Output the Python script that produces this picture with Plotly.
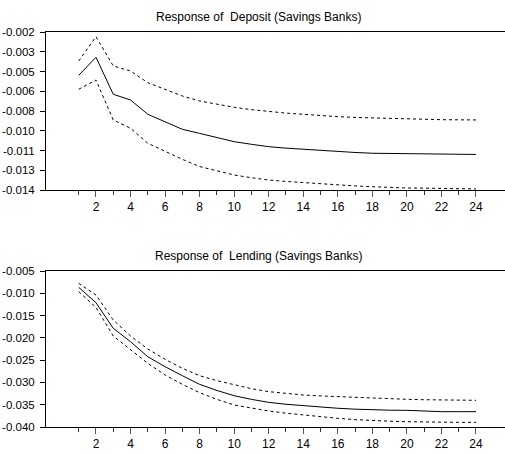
import plotly.graph_objects as go

periods = list(range(1, 25))

deposit_resp = [-0.00529, -0.00392, -0.00673, -0.00716, -0.00825, -0.00881, -0.00939, -0.00970,
                -0.01003, -0.01033, -0.01053, -0.01071, -0.01082, -0.01091, -0.01100, -0.01109,
                -0.01115, -0.01121, -0.01123, -0.01124, -0.01127, -0.01129, -0.01130, -0.01130]
deposit_upper = [-0.00420, -0.00236, -0.00458, -0.00496, -0.00585, -0.00635, -0.00686, -0.00724,
                 -0.00750, -0.00772, -0.00790, -0.00805, -0.00816, -0.00825, -0.00835, -0.00843,
                 -0.00849, -0.00853, -0.00858, -0.00861, -0.00864, -0.00866, -0.00867, -0.00868]
deposit_lower = [-0.00635, -0.00565, -0.00868, -0.00931, -0.01045, -0.01109, -0.01167, -0.01222,
                 -0.01256, -0.01286, -0.01307, -0.01324, -0.01335, -0.01344, -0.01354, -0.01362,
                 -0.01369, -0.01375, -0.01381, -0.01385, -0.01386, -0.01387, -0.01390, -0.01392]

lending_resp = [-0.00866, -0.01211, -0.01786, -0.02086, -0.02423, -0.02647, -0.02849, -0.03043,
                -0.03180, -0.03298, -0.03380, -0.03447, -0.03490, -0.03522, -0.03555, -0.03580,
                -0.03600, -0.03619, -0.03623, -0.03626, -0.03645, -0.03656, -0.03656, -0.03656]
lending_upper = [-0.00777, -0.01039, -0.01599, -0.01958, -0.02250, -0.02481, -0.02683, -0.02849,
                 -0.02960, -0.03058, -0.03140, -0.03207, -0.03250, -0.03282, -0.03303, -0.03320,
                 -0.03340, -0.03357, -0.03370, -0.03379, -0.03388, -0.03394, -0.03398, -0.03401]
lending_lower = [-0.00964, -0.01316, -0.01958, -0.02272, -0.02571, -0.02833, -0.03043, -0.03230,
                 -0.03380, -0.03507, -0.03580, -0.03641, -0.03690, -0.03731, -0.03770, -0.03805,
                 -0.03835, -0.03858, -0.03870, -0.03881, -0.03890, -0.03896, -0.03896, -0.03896]

deposit_tickvals = [-0.014, -0.0125, -0.011, -0.0095, -0.008, -0.0065, -0.005, -0.0035, -0.002]
deposit_ticktext = ["-0.014", "-0.013", "-0.011", "-0.010", "-0.008", "-0.006", "-0.005", "-0.003", "-0.002"]
lending_tickvals = [-0.040, -0.035, -0.030, -0.025, -0.020, -0.015, -0.010, -0.005]
lending_ticktext = ["-0.040", "-0.035", "-0.030", "-0.025", "-0.020", "-0.015", "-0.010", "-0.005"]
x_major = list(range(2, 25, 2))
x_minor = list(range(1, 25))

titles = ["Response of  Deposit (Savings Banks)", "Response of  Lending (Savings Banks)"]

FONT = "Liberation Sans Narrow, Arial Narrow, Liberation Sans, Arial, sans-serif"
W, H = 505, 454

fig = go.Figure()

dash = "3px,3px"
for ax, (resp, up, lo) in zip(["", "2"], [(deposit_resp, deposit_upper, deposit_lower),
                                        (lending_resp, lending_upper, lending_lower)]):
    for ys, d in [(up, dash), (lo, dash), (resp, "solid")]:
        fig.add_trace(go.Scatter(x=periods, y=ys, mode="lines", xaxis="x" + ax, yaxis="y" + ax,
                                 line=dict(color="black", width=1, dash=d), showlegend=False,
                                 hoverinfo="skip"))

def ydom(top_px, bot_px):
    return [1 - bot_px / H, 1 - top_px / H]

x_left = 1 - (78.7 - 46) / 17.27
x_right = 24 + (505 - 476) / 17.27

xcommon = dict(range=[x_left, x_right], showline=True, linecolor="black", linewidth=1, mirror=True,
               showgrid=False, zeroline=False, tickmode="array", tickvals=x_major,
               ticktext=[str(v) for v in x_major], ticks="outside", ticklen=6, tickcolor="#555",
               tickfont=dict(family=FONT, size=12, color="black"),
               minor=dict(tickmode="array", tickvals=x_minor, ticks="outside", ticklen=4, tickcolor="#333"),
               domain=[46 / W, 1])
ycommon = dict(showline=True, linecolor="black", linewidth=1, mirror=False, showgrid=False,
               zeroline=False, tickmode="array", ticks="outside", ticklen=5, tickcolor="black",
               ticklabelstandoff=3,
               tickfont=dict(family=FONT, size=11.5, color="black"))

fig.update_layout(
    width=W, height=H, margin=dict(l=0, r=0, t=0, b=0, autoexpand=False),
    paper_bgcolor="white", plot_bgcolor="white",
    xaxis=dict(**xcommon, anchor="y"),
    yaxis=dict(**ycommon, range=[-0.014, -0.002], tickvals=deposit_tickvals, ticktext=deposit_ticktext,
               domain=ydom(32, 190), anchor="x"),
    xaxis2=dict(**xcommon, anchor="y2"),
    yaxis2=dict(**ycommon, range=[-0.040, -0.005], tickvals=lending_tickvals, ticktext=lending_ticktext,
                domain=ydom(271, 427), anchor="x2"),
    annotations=[
        dict(text=titles[0], x=258 / W, y=1 - 17 / H, xref="paper", yref="paper", showarrow=False,
             font=dict(family=FONT, size=12, color="black"), xanchor="center", yanchor="middle"),
        dict(text=titles[1], x=258 / W, y=1 - 256 / H, xref="paper", yref="paper", showarrow=False,
             font=dict(family=FONT, size=12, color="black"), xanchor="center", yanchor="middle"),
    ],
)

fig.write_html("out.html")
